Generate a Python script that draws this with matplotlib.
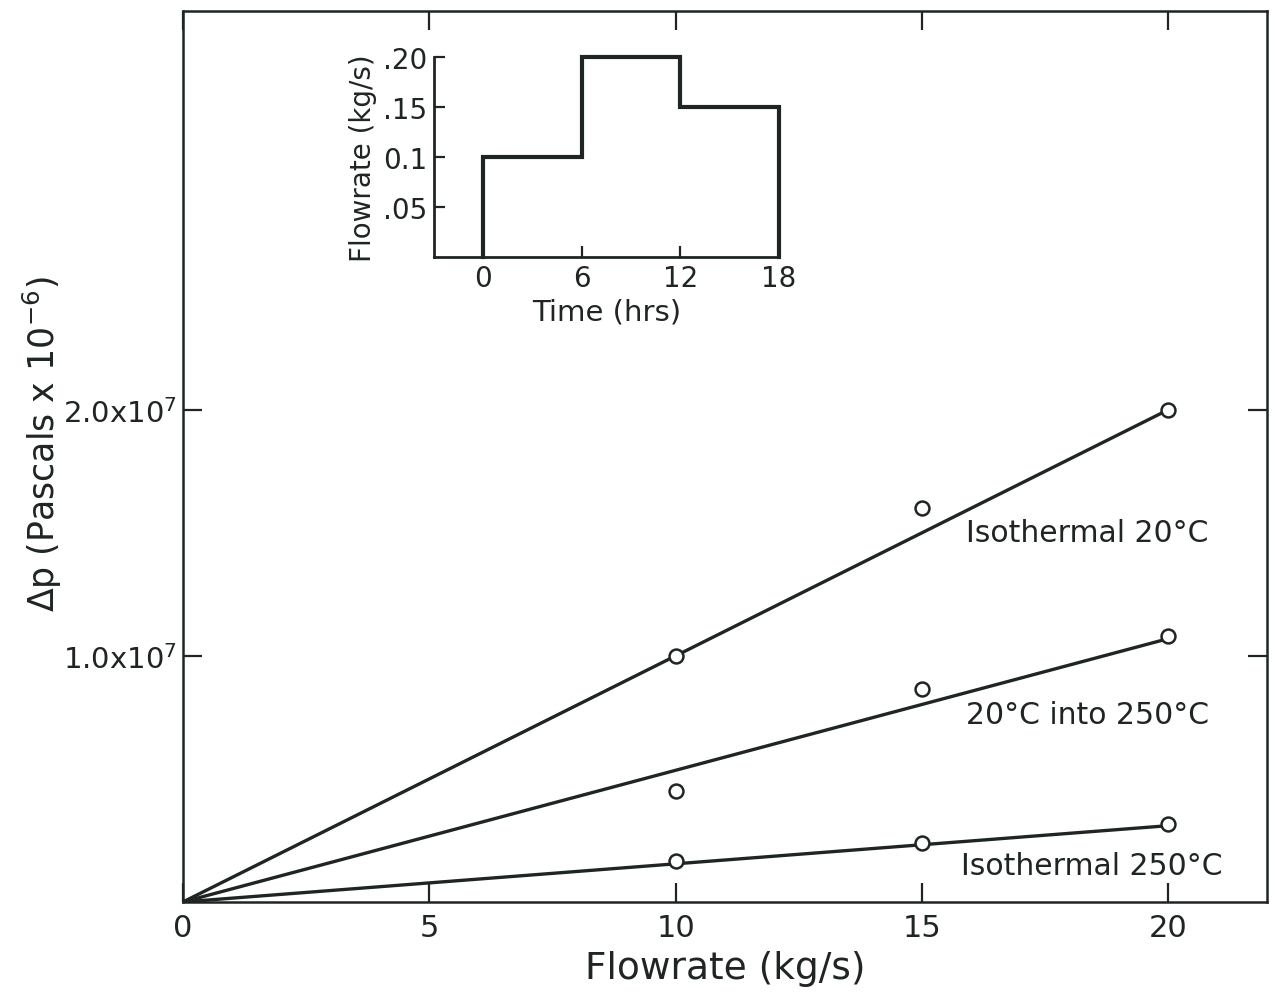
import matplotlib.pyplot as plt
import numpy as np

# main chart data
flowrate = [10, 15, 20]
dp_iso20 = [1.0e7, 1.6e7, 2.0e7]
dp_mixed = [4.5e6, 8.65e6, 1.08e7]
dp_iso250 = [1.65e6, 2.4e6, 3.15e6]

# fitted lines (through the origin), end values at 20 kg/s
fit_x = [0, 20]
fit_iso20 = [0, 2.0e7]
fit_mixed = [0, 1.07e7]
fit_iso250 = [0, 3.1e6]

curve_labels = ["Isothermal 20\u00b0C", "20\u00b0C into 250\u00b0C", "Isothermal 250\u00b0C"]
label_x = [15.9, 15.9, 15.8]
label_y = [1.5e7, 7.6e6, 1.5e6]

x_ticks = [0, 5, 10, 15, 20]
y_ticks = [1.0e7, 2.0e7]
y_ticklabels = ["1.0x10$^{7}$", "2.0x10$^{7}$"]

# inset: flowrate schedule
time_hrs = [0, 0, 6, 6, 12, 12, 18, 18]
sched_flow = [0, 0.10, 0.10, 0.20, 0.20, 0.15, 0.15, 0]
inset_xticks = [0, 6, 12, 18]
inset_yticks = [0.05, 0.10, 0.15, 0.20]
inset_yticklabels = [".05", "0.1", ".15", ".20"]

ink = "#1f2622"
plt.rcParams["font.family"] = "DejaVu Sans"

fig = plt.figure(figsize=(12.75, 9.95), dpi=100)
ax = fig.add_axes([0.1435, 0.0925, 0.8502, 0.8955])

for xs, ys in [(fit_x, fit_iso20), (fit_x, fit_mixed), (fit_x, fit_iso250)]:
    ax.plot(xs, ys, color=ink, lw=2.4, solid_capstyle="round", zorder=2)
for ys in [dp_iso20, dp_mixed, dp_iso250]:
    ax.plot(flowrate, ys, "o", ms=10, mfc="white", mec=ink, mew=1.8, zorder=3)

for t, lx, ly in zip(curve_labels, label_x, label_y):
    ax.text(lx, ly, t, fontsize=21.5, color=ink, va="center", ha="left")

ax.set_xlim(0, 22)
ax.set_ylim(0, 3.62e7)
ax.set_xticks(x_ticks)
ax.set_xticklabels([str(v) for v in x_ticks])
ax.set_yticks(y_ticks)
ax.set_yticklabels(y_ticklabels)
ax.tick_params(direction="in", length=14, width=1.6, color=ink, labelcolor=ink,
               top=True, right=True, labelsize=21)
ax.tick_params(axis="x", labelsize=22, pad=8)
ax.tick_params(axis="y", pad=4)
for s in ax.spines.values():
    s.set_color(ink)
    s.set_linewidth(1.8)

ax.set_xlabel("Flowrate (kg/s)", fontsize=27, color=ink, labelpad=6)
ax.set_ylabel("\u0394p (Pascals x 10$^{-6}$)", fontsize=25, color=ink)
ax.yaxis.set_label_coords(-0.11, 0.515)

# inset
axi = fig.add_axes([0.3404, 0.7407, 0.2706, 0.2010])
axi.plot(time_hrs, sched_flow, color=ink, lw=3, solid_joinstyle="miter", clip_on=False)
axi.set_xlim(-3, 18)
axi.set_ylim(0, 0.2)
axi.set_xticks(inset_xticks)
axi.set_xticklabels([str(v) for v in inset_xticks])
axi.set_yticks(inset_yticks)
axi.set_yticklabels(inset_yticklabels)
axi.spines["top"].set_visible(False)
axi.spines["right"].set_visible(False)
for s in ("left", "bottom"):
    axi.spines[s].set_color(ink)
    axi.spines[s].set_linewidth(2)
axi.tick_params(direction="in", length=8, width=1.6, color=ink, labelcolor=ink, labelsize=20, pad=5)
axi.set_xlabel("Time (hrs)", fontsize=21, color=ink, labelpad=4)
axi.set_ylabel("Flowrate (kg/s)", fontsize=20, color=ink, labelpad=4)
axi.patch.set_alpha(0)

fig.savefig("out.png", dpi=100)
